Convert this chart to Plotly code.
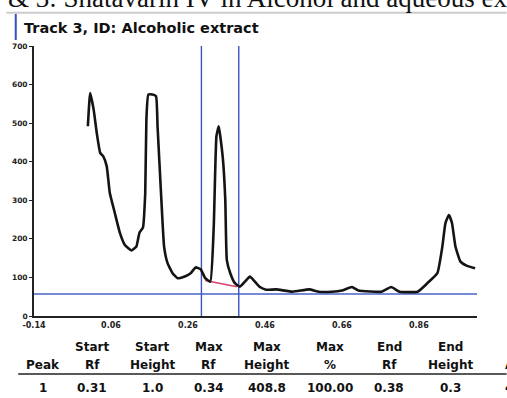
import plotly.graph_objects as go

# ---- data ----
rf = [0.000, 0.006, 0.015, 0.023, 0.032, 0.040, 0.049, 0.057, 0.070, 0.083, 0.096, 0.113, 0.126,
      0.134, 0.143, 0.149, 0.152, 0.157, 0.168, 0.177, 0.181, 0.190, 0.198, 0.207, 0.220, 0.233,
      0.250, 0.267, 0.280, 0.293, 0.305, 0.318, 0.327, 0.334, 0.340, 0.344, 0.351, 0.357, 0.361,
      0.370, 0.382, 0.395, 0.408, 0.421, 0.434, 0.446, 0.463, 0.489, 0.532, 0.575, 0.600, 0.634,
      0.660, 0.686, 0.703, 0.763, 0.788, 0.810, 0.857, 0.882, 0.908, 0.921, 0.929, 0.938, 0.946,
      0.955, 0.968, 0.985, 1.006]
au = [492, 578, 535, 475, 423, 414, 388, 319, 267, 216, 184, 170, 180,
      216, 229, 319, 509, 574, 574, 570, 492, 319, 180, 137, 111, 98,
      102, 111, 126, 121, 98, 89, 232, 466, 492, 466, 405, 301, 145,
      111, 85, 76, 89, 102, 89, 76, 68, 69, 63, 69, 63, 63,
      66, 75, 66, 63, 75, 63, 63, 85, 111, 180, 241, 262, 241,
      180, 141, 130, 124]

baseline_level = 57
peak_window = [0.295, 0.392]
peak_base_rf = [0.305, 0.387]
peak_base_au = [92, 76]

x_ticks = [-0.14, 0.06, 0.26, 0.46, 0.66, 0.86]
y_ticks = [0, 100, 200, 300, 400, 500, 600, 700]

header_1 = ["", "Start", "Start", "Max", "Max", "Max", "End", "End", ""]
header_2 = ["Peak", "Rf", "Height", "Rf", "Height", "%", "Rf", "Height", "Area"]
row_1 = ["1", "0.31", "1.0", "0.34", "408.8", "100.00", "0.38", "0.3", "4687.4"]

top_caption = "& 3: Shatavarin IV in Alcohol and aqueous ext"
track_title = "Track 3, ID: Alcoholic extract"

# ---- layout geometry (pixels) ----
W, H = 507, 398
L, R, T, B = 28, 30, 46, 82
PW, PH = W - L - R, H - T - B


def px(x):
    return (x - L) / PW


def py(y):
    return (H - B - y) / PH


fig = go.Figure()
fig.add_trace(go.Scatter(x=[-0.14, 1.011], y=[baseline_level] * 2, mode="lines",
                         line=dict(color="#4a63c8", width=1.6), hoverinfo="skip"))
for xv in peak_window:
    fig.add_trace(go.Scatter(x=[xv, xv], y=[0, 700], mode="lines",
                             line=dict(color="#3b55c4", width=1.4), hoverinfo="skip"))
fig.add_trace(go.Scatter(x=peak_base_rf, y=peak_base_au, mode="lines",
                         line=dict(color="#d8406a", width=1.4), hoverinfo="skip"))
fig.add_trace(go.Scatter(x=rf, y=au, mode="lines",
                         line=dict(color="#141414", width=2.6, shape="spline", smoothing=0.4),
                         hoverinfo="skip"))

font_b = "DejaVu Sans"
fig.update_layout(
    width=W, height=H, showlegend=False,
    margin=dict(l=L, r=R, t=T, b=B, pad=0),
    paper_bgcolor="white", plot_bgcolor="white",
    xaxis=dict(range=[-0.14, 1.011], tickvals=x_ticks, ticktext=[f"{v:.2f}" for v in x_ticks],
               showgrid=False, zeroline=False, showline=True, linecolor="#222", linewidth=1.8,
               ticks="", tickfont=dict(family=font_b, size=8, color="#222", weight="bold"),
               fixedrange=True),
    yaxis=dict(range=[0, 700], tickvals=y_ticks, showgrid=False, zeroline=False,
               showline=True, linecolor="#222", linewidth=1.8, ticks="outside", ticklen=3,
               tickcolor="#222", tickfont=dict(family=font_b, size=7.5, color="#222", weight="bold"),
               fixedrange=True),
)

ann = []
ann.append(dict(text=top_caption, x=px(0), y=py(15), xref="paper", yref="paper",
                xanchor="left", yanchor="bottom", showarrow=False,
                font=dict(family="Liberation Serif", size=27, color="#111")))
ann.append(dict(text="<b>" + track_title + "</b>", x=px(16), y=py(28), xref="paper",
                yref="paper", xanchor="left", yanchor="middle", showarrow=False,
                font=dict(family=font_b, size=14.5, color="#111")))

col_x = [37, 87, 148, 205, 264, 328, 388, 450, 503]
for i, cx in enumerate(col_x):
    anchor = "left" if i == len(col_x) - 1 else "center"
    for txt, yy in ((header_1[i], 347), (header_2[i], 365), (row_1[i], 388)):
        if txt:
            ann.append(dict(text="<b>" + txt + "</b>", x=px(cx), y=py(yy), xref="paper",
                            yref="paper", xanchor=anchor, yanchor="middle", showarrow=False,
                            font=dict(family=font_b, size=12, color="#111")))
fig.update_layout(annotations=ann)

fig.update_layout(shapes=[
    dict(type="line", xref="paper", yref="paper", x0=px(0), x1=px(W), y0=py(12.7), y1=py(12.7),
         line=dict(color="#cccccc", width=2)),
    dict(type="line", xref="paper", yref="paper", x0=px(9.5), x1=px(9.5), y0=py(14), y1=py(40),
         line=dict(color="#3050c0", width=2)),
    dict(type="line", xref="paper", yref="paper", x0=px(12), x1=px(W), y0=py(374), y1=py(374),
         line=dict(color="#222", width=1.6)),
])

fig.write_html("out.html")
